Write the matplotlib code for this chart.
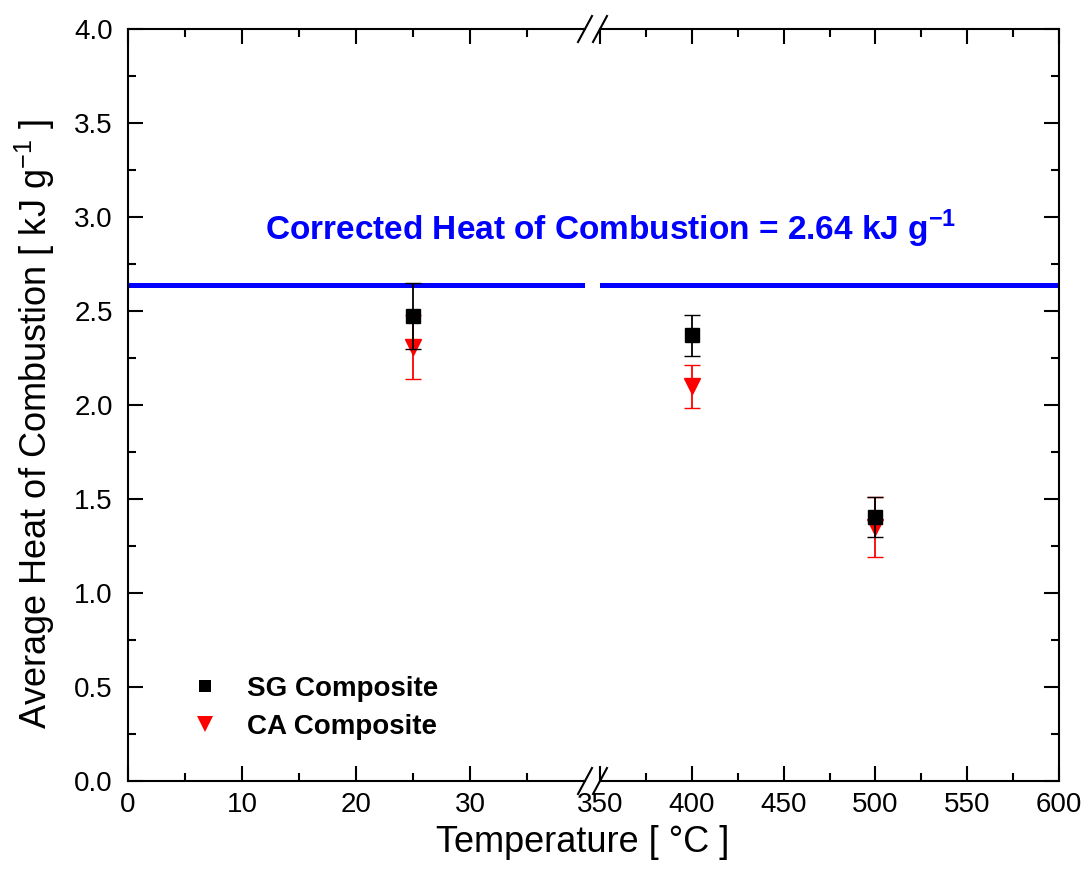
import numpy as np
import matplotlib
matplotlib.use('Agg')
import matplotlib.pyplot as plt
from matplotlib.lines import Line2D

plt.rcParams['font.family'] = ['Liberation Sans', 'DejaVu Sans']
plt.rcParams['mathtext.fontset'] = 'custom'
plt.rcParams['mathtext.rm'] = 'Liberation Sans'
plt.rcParams['mathtext.bf'] = 'Liberation Sans:bold'

# data
sg_temp = [25, 400, 500]
sg_heat = [2.475, 2.37, 1.405]
sg_err = [0.175, 0.11, 0.105]

ca_temp = [25, 400, 500]
ca_heat = [2.31, 2.10, 1.35]
ca_err = [0.17, 0.115, 0.16]

corrected_heat = 2.64

left_xticks = [0, 10, 20, 30]
left_minor = [5, 15, 25, 35]
right_xticks = [350, 400, 450, 500, 550, 600]
right_minor = [375, 425, 475, 525, 575]
yticks = [0.0, 0.5, 1.0, 1.5, 2.0, 2.5, 3.0, 3.5, 4.0]
yminor = np.arange(0.25, 4.0, 0.5)

W, H = 1088, 888
fig = plt.figure(figsize=(W / 100, H / 100), dpi=100)

# axes geometry in pixels
x_left, x_brk1, x_brk2, x_right = 128, 585, 600, 1059
y_bot, y_top = 781, 29
b = 1 - y_bot / H
h = (y_bot - y_top) / H
ax1 = fig.add_axes([x_left / W, b, (x_brk1 - x_left) / W, h])
ax2 = fig.add_axes([x_brk2 / W, b, (x_right - x_brk2) / W, h], sharey=ax1)

for ax in (ax1, ax2):
    ax.axhline(corrected_heat, color='#0000ff', lw=3.6, zorder=1)
    ax.errorbar(ca_temp, ca_heat, yerr=ca_err, fmt='v', color='red', ms=12,
                mew=1, elinewidth=1.3, capsize=5.8, capthick=1.3, zorder=3)
    ax.errorbar(sg_temp, sg_heat, yerr=sg_err, fmt='s', color='black', ms=10,
                mew=1, elinewidth=1.3, capsize=5.8, capthick=1.3, zorder=4)
    for s in ax.spines.values():
        s.set_linewidth(1.5)
    ax.tick_params(which='both', direction='in', width=1.5, top=True,
                   labelsize=20, pad=8)
    ax.tick_params(which='major', length=11)
    ax.tick_params(which='minor', length=6)

ax1.set_xlim(0, 40.1)
ax2.set_xlim(350, 600)
ax1.set_ylim(0, 4.0)
ax1.set_xticks(left_xticks)
ax1.set_xticks(left_minor, minor=True)
ax2.set_xticks(right_xticks)
ax2.set_xticks(right_minor, minor=True)
ax1.set_yticks(yticks)
ax1.set_yticks(yminor, minor=True)
ax1.set_yticklabels([f'{v:.1f}' for v in yticks])
ax1.tick_params(axis='y', which='both', right=False, pad=11)
ax2.tick_params(axis='y', which='both', left=False, right=True, labelleft=False)
ax1.spines['right'].set_visible(False)
ax2.spines['left'].set_visible(False)

# break marks
for yy in (y_bot, y_top):
    for xx in (x_brk1, x_brk2):
        fig.add_artist(Line2D([(xx - 7) / W, (xx + 7) / W],
                              [1 - (yy + 13) / H, 1 - (yy - 13) / H],
                              transform=fig.transFigure, color='black', lw=1.5))

ax1.set_ylabel('Average Heat of Combustion [ kJ g$^{-1}$ ]', fontsize=26)
ax1.yaxis.set_label_coords(-0.155, 0.475)
fig.text(583 / W, 1 - 842 / H, 'Temperature [ °C ]', fontsize=26,
         ha='center', va='center')

fig.text(611 / W, 1 - 229 / H,
         r'Corrected Heat of Combustion = 2.64 kJ g$^{\mathbf{-1}}$',
         fontsize=24, fontweight='bold', color='#0000ff', ha='center', va='center')

handles = [Line2D([], [], ls='none', marker='s', color='black', ms=8, mew=0),
           Line2D([], [], ls='none', marker='v', color='red', ms=11, mew=0)]
leg = fig.legend(handles, ['SG Composite', 'CA Composite'], loc='upper left',
                 bbox_to_anchor=(191 / W, 1 - 676 / H), frameon=False,
                 handlelength=1.0, handletextpad=1.0, labelspacing=0.42,
                 borderpad=0, borderaxespad=0,
                 prop={'size': 20, 'weight': 'bold'})

fig.savefig('out.png', dpi=100)
